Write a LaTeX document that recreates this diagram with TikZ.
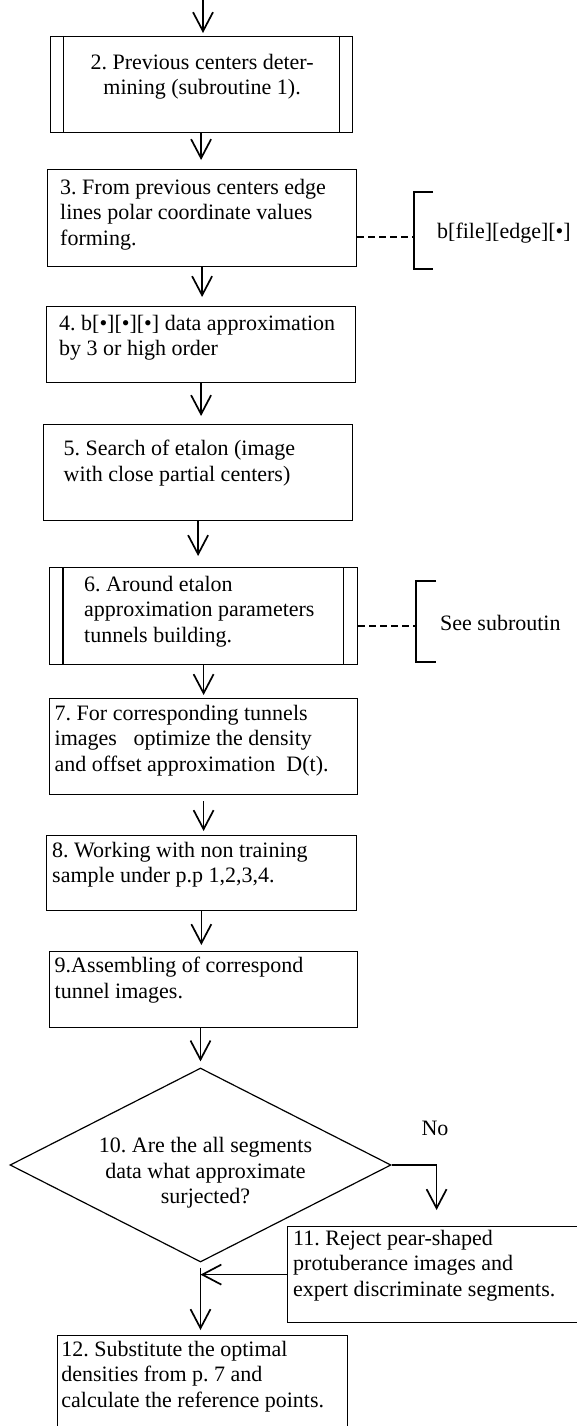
\documentclass[tikz,border=0pt]{standalone}
\usepackage{fontspec}
\setmainfont{Liberation Serif}
\usepackage{tikz}
\usetikzlibrary{arrows.meta}
\usetikzlibrary{shapes.geometric}
\usetikzlibrary{positioning}
\frenchspacing

\begin{document}
\begin{tikzpicture}[x=1pt, y=-1pt,
    flowbox/.style={draw, line width=1.2pt, anchor=north west, inner sep=0pt},
    flowtext/.style={anchor=north west, align=left, inner sep=0pt, font=\fontsize{22}{25.5}\selectfont},
    flowarrow/.style={line width=1.7pt, -{Straight Barb[length=19pt, width=20pt, line width=1.7pt]}},
    linkline/.style={line width=2pt, dash pattern=on 7pt off 4pt}]
  \useasboundingbox (0,0) rectangle (576,1426);

  % boxes
  \node[flowbox, minimum width=302pt, minimum height=96pt] (b2) at (49.5,36) {};
  \node[flowbox, minimum width=309pt, minimum height=97pt] (b3) at (47,169) {};
  \node[flowbox, minimum width=309pt, minimum height=76pt] (b4) at (46,306) {};
  \node[flowbox, minimum width=309pt, minimum height=96pt] (b5) at (43,424) {};
  \node[flowbox, minimum width=308pt, minimum height=97pt] (b6) at (49,567) {};
  \node[flowbox, minimum width=308pt, minimum height=96pt] (b7) at (49,698) {};
  \node[flowbox, minimum width=309.5pt, minimum height=75pt] (b8) at (46,835) {};
  \node[flowbox, minimum width=308pt, minimum height=76pt] (b9) at (49,951) {};
  \node[draw, diamond, line width=1.2pt, minimum width=381pt, minimum height=194pt,
        shape aspect=1.96, inner sep=0pt] (d10) at (200.5,1165) {};
  \node[flowbox, minimum width=298pt, minimum height=96pt] (b11) at (287,1226) {};
  \node[flowbox, minimum width=290pt, minimum height=110pt] (b12) at (56.7,1335) {};

  % subroutine sides
  \draw[line width=1.2pt] ([xshift=14pt]b2.north west) -- ([xshift=14pt]b2.south west);
  \draw[line width=1.2pt] ([xshift=-13pt]b2.north east) -- ([xshift=-13pt]b2.south east);
  \draw[line width=1.2pt] ([xshift=14pt]b6.north west) -- ([xshift=14pt]b6.south west);
  \draw[line width=1.2pt] ([xshift=-15pt]b6.north east) -- ([xshift=-15pt]b6.south east);

  % texts
  \node[flowtext, anchor=north, align=center] (t2) at ([xshift=1pt, yshift=-18pt]b2.north)
    {2. Previous centers deter-\\mining (subroutine 1).};
  \node[flowtext] (t3) at ([xshift=13pt, yshift=-10pt]b3.north west)
    {3. From previous centers edge\\lines polar coordinate values\\forming.};
  \node[flowtext] (t4) at ([xshift=13pt, yshift=-9pt]b4.north west)
    {4. b[•][•][•] data approximation\\by 3 or high order};
  \node[flowtext] (t5) at ([xshift=20.5pt, yshift=-16pt]b5.north west)
    {5. Search of etalon (image\\with close partial centers)};
  \node[flowtext] (t6) at ([xshift=35pt, yshift=-9pt]b6.north west)
    {6. Around etalon\\approximation parameters\\tunnels building.};
  \node[flowtext] (t7) at ([xshift=5.5pt, yshift=-7pt]b7.north west)
    {7. For corresponding tunnels\\images \ \ optimize the density\\and offset approximation \ D(t).};
  \node[flowtext] (t8) at ([xshift=6pt, yshift=-7pt]b8.north west)
    {8. Working with non training\\sample under p.p 1,2,3,4.};
  \node[flowtext] (t9) at ([xshift=5.5pt, yshift=-6pt]b9.north west)
    {9.Assembling of correspond\\tunnel images.};
  \node[flowtext, anchor=center, align=center] (t10) at ([xshift=5pt, yshift=-8pt]d10.center)
    {10. Are the all segments\\data what approximate\\surjected?};
  \node[flowtext] (t11) at ([xshift=6pt, yshift=-4pt]b11.north west)
    {11. Reject pear-shaped\\protuberance images and\\expert discriminate segments.};
  \node[flowtext] (t12) at ([xshift=4.5pt, yshift=-6pt]b12.north west)
    {12. Substitute the optimal\\densities from p. 7 and\\calculate the reference points.};
  \node[flowtext, anchor=center] (no) at (435,1128) {No};

  % side notes
  \coordinate (k3) at (414,237);
  \coordinate (k6) at (416,626);
  \draw[linkline] (b3.east |- k3) -- (k3);
  \draw[linkline] (b6.east |- k6) -- (k6);
  \draw[line width=1.2pt] (433,192) -- (414,192) -- (414,269) -- (433,269);
  \draw[line width=1.2pt] (436,581) -- (416,581) -- (416,662) -- (436,662);
  \node[flowtext, anchor=west] (n3) at (437,233) {b[file][edge][•]};
  \node[flowtext, anchor=west] (n6) at (440,623) {See subroutin};

  % arrows
  \coordinate (start) at (203,0);
  \draw[flowarrow, shorten >=3pt] (start) -- (start |- b2.north);
  \draw[flowarrow, shorten >=9pt] (b2.south) -- (b2.south |- b3.north);
  \draw[flowarrow, shorten >=9pt] (b3.south) -- (b3.south |- b4.north);
  \draw[flowarrow, shorten >=8pt] (b4.south) -- (b4.south |- b5.north);
  \draw[flowarrow, shorten >=11pt] (b5.south) -- (b5.south |- b6.north);
  \draw[flowarrow, shorten >=3pt] (b6.south) -- (b6.south |- b7.north);
  \draw[flowarrow, shorten <=6pt, shorten >=4pt] (b7.south) -- (b7.south |- b8.north);
  \draw[flowarrow, shorten >=6pt] (b8.south) -- (b8.south |- b9.north);
  \draw[flowarrow, shorten >=6pt] (d10.north |- b9.south) -- (d10.north);
  \draw[flowarrow, shorten >=16pt] (d10.east) -| (b11.north);
  \draw[flowarrow] (b11.west) -- (b11.west -| d10.south);
  \draw[flowarrow, shorten <=5pt, shorten >=5pt] (d10.south) -- (d10.south |- b12.north);
\end{tikzpicture}
\end{document}
